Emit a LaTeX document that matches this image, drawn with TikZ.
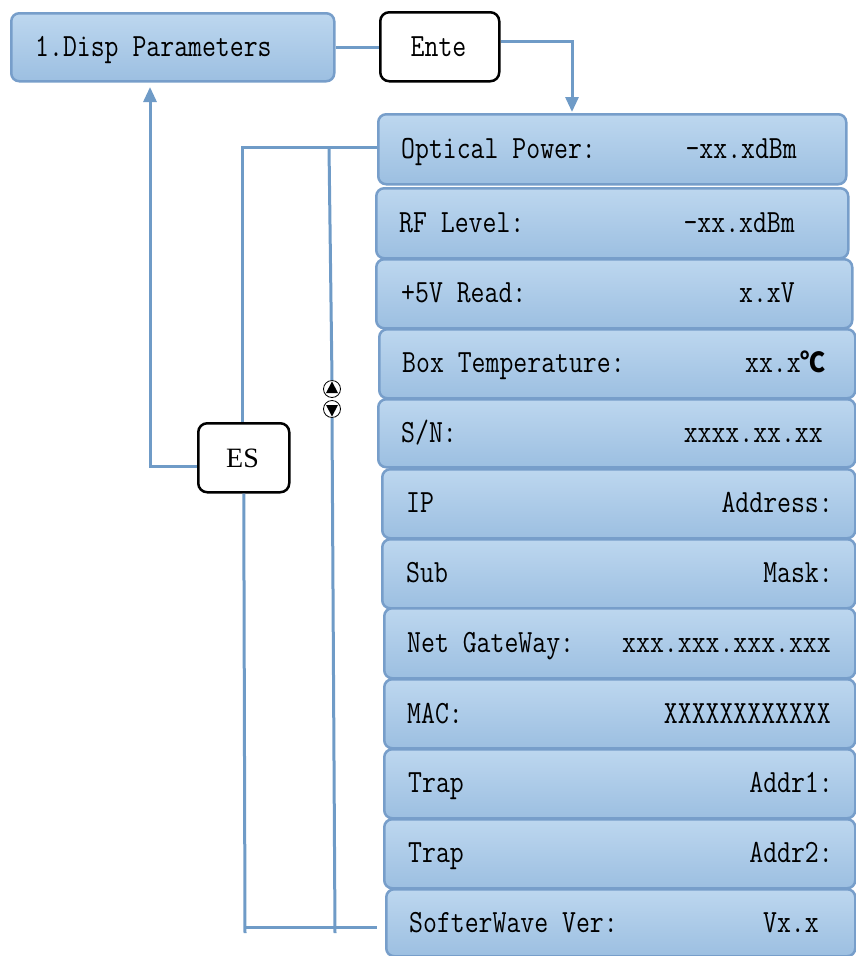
\documentclass[tikz,border=0pt]{standalone}
\usepackage{fontspec}
\usepackage{graphicx}
\usetikzlibrary{arrows.meta}
\newfontfamily\cjk{Noto Sans CJK SC}
\newfontfamily\esfont{Liberation Serif}
\definecolor{boxtop}{HTML}{BDD7EF}
\definecolor{boxbot}{HTML}{9CBFE1}
\definecolor{boxedge}{HTML}{779ECA}
\definecolor{wire}{HTML}{6F9BC7}
\newcommand\mono[1]{\scalebox{1}[1.2]{\fontsize{27}{27}\selectfont\ttfamily #1}}
\tikzset{
  rowbox/.style={draw=boxedge, line width=2.5pt, rounded corners=8pt,
    top color=boxtop, bottom color=boxbot, inner sep=0pt, anchor=north west},
  keybox/.style={draw=black, line width=2.5pt, rounded corners=9pt, fill=white,
    inner sep=0pt, anchor=north west},
  ltext/.style={anchor=base west, inner sep=0pt, text=black},
  rtext/.style={anchor=base east, inner sep=0pt, text=black},
  wireline/.style={draw=wire, line width=3pt},
  tip/.style={-{Triangle[length=15pt,width=13pt]}},
}
\begin{document}
\begin{tikzpicture}[x=1pt,y=-1pt]
\useasboundingbox (0,0) rectangle (856,956);
% top menu box
\node[rowbox, minimum width=323pt, minimum height=68pt] (disp) at (10,12) {};
\node[ltext] (disptxt) at (35,56) {\mono{1.Disp Parameters}};
% Ente key
\node[keybox, minimum width=119pt, minimum height=69pt] (ente) at (379,11) {};
\node[anchor=base, inner sep=0pt] (entetxt) at (438.5,56) {\mono{Ente}};
% ES key
\node[keybox, minimum width=91pt, minimum height=69pt] (es) at (197,422) {};
\node[anchor=base, inner sep=0pt] (estxt) at (242.5,467) {\fontsize{28}{28}\selectfont\esfont ES};
% parameter rows
\node[rowbox, minimum width=468pt, minimum height=70pt] (b1) at (377,113) {};
\node[ltext] at (401,158) {\mono{Optical Power:}};
\node[rtext] at (797,158) {\mono{-xx.xdBm}};
\node[rowbox, minimum width=472pt, minimum height=70pt] (b2) at (375,187) {};
\node[ltext] at (399,232) {\mono{RF Level:}};
\node[rtext] at (795,232) {\mono{-xx.xdBm}};
\node[rowbox, minimum width=476pt, minimum height=69pt] (b3) at (375,258) {};
\node[ltext] at (401,302) {\mono{+5V Read:}};
\node[rtext] at (795,302) {\mono{x.xV}};
\node[rowbox, minimum width=476pt, minimum height=69pt] (b4) at (378,328) {};
\node[ltext] at (402,372) {\mono{Box Temperature:}};
\node[rtext] at (826,372) {\mono{xx.x}\scalebox{1}[1.1]{\fontsize{25}{25}\selectfont\cjk\bfseries ℃}};
\node[rowbox, minimum width=477pt, minimum height=68pt] (b5) at (377,398) {};
\node[ltext] at (401,442) {\mono{S/N:}};
\node[rtext] at (823,442) {\mono{xxxx.xx.xx}};
\node[rowbox, minimum width=473pt, minimum height=69pt] (b6) at (381,468) {};
\node[ltext] at (406,512) {\mono{IP}};
\node[rtext] at (833,512) {\mono{Address:}};
\node[rowbox, minimum width=473pt, minimum height=69pt] (b7) at (381,538) {};
\node[ltext] at (406,582) {\mono{Sub}};
\node[rtext] at (833,582) {\mono{Mask:}};
\node[rowbox, minimum width=471pt, minimum height=70pt] (b8) at (383,607) {};
\node[ltext] at (407,652) {\mono{Net GateWay:}};
\node[rtext] at (831,652) {\mono{xxx.xxx.xxx.xxx}};
\node[rowbox, minimum width=471pt, minimum height=69pt] (b9) at (383,678) {};
\node[ltext] at (407,723) {\mono{MAC:}};
\node[rtext] at (831,723) {\mono{XXXXXXXXXXXX}};
\node[rowbox, minimum width=471pt, minimum height=69pt] (b10) at (383,748) {};
\node[ltext] at (408,792) {\mono{Trap}};
\node[rtext] at (833,792) {\mono{Addr1:}};
\node[rowbox, minimum width=471pt, minimum height=69pt] (b11) at (383,818) {};
\node[ltext] at (408,862) {\mono{Trap}};
\node[rtext] at (833,862) {\mono{Addr2:}};
\node[rowbox, minimum width=469pt, minimum height=67pt] (b12) at (385,888) {};
\node[ltext] at (409,932) {\mono{SofterWave Ver:}};
\node[rtext] at (819,932) {\mono{Vx.x}};
% scroll symbol
\node[circle, draw=black, line width=0.8pt, minimum size=17pt, inner sep=0pt] (up) at (332,389) {};
\node[circle, draw=black, line width=0.8pt, minimum size=17pt, inner sep=0pt] (dn) at (332,409) {};
\fill[black] (332,381.5) -- (338,393) -- (326,393) -- cycle;
\fill[black] (332,416.5) -- (338,405) -- (326,405) -- cycle;
% coordinates for wires
\coordinate (c1) at (242,147);
\coordinate (c2) at (329,147);
\coordinate (c3) at (245,933);
\coordinate (c4) at (335,933);
\coordinate (c5) at (245,927);
\coordinate (c6) at (377,927);
% wires
\draw[wireline] (disp.east) -- (ente.west |- disp.east);
\draw[wireline, tip] (ente.east |- 0,41) -- (572,41) -- (572,112);
\draw[wireline, tip] (es.west |- 0,466) -- (150,466) -- (150,87);
\draw[wireline] (b1.west |- c1) -- (c1) -- (es.north -| c1);
\draw[wireline] (c2) -- (up.north);
\draw[wireline] (dn.south) -- (c4);
\draw[wireline] (es.south) -- (c3);
\draw[wireline] (c5) -- (c6);
\end{tikzpicture}
\end{document}
